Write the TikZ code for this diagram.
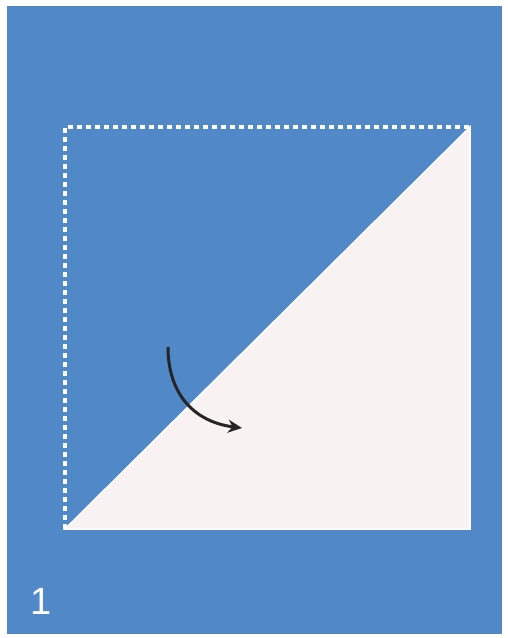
\documentclass[tikz,border=0pt]{standalone}
\usepackage{fontspec}
\setsansfont{Liberation Sans}
\usetikzlibrary{arrows.meta}
\definecolor{bgblue}{RGB}{80,136,200}
\definecolor{paper}{RGB}{248,242,243}
\tikzset{
  fold/.style={draw=white, line width=3.2pt, dash pattern=on 5pt off 4pt},
  paperfill/.style={fill=paper, draw=white, line width=1.5pt},
  arr/.style={draw=black!85, line width=3pt, -{Stealth[length=14pt,width=13pt]}},
  lbl/.style={text=white, font=\sffamily\fontsize{38}{38}\selectfont, inner sep=0pt}
}
\begin{document}
\begin{tikzpicture}[x=1pt,y=-1pt]
\useasboundingbox (0,0) rectangle (507,638);
\fill[white] (0,0) rectangle (507,638);
\fill[bgblue] (7,6) rectangle (502,634);
\coordinate (tl) at (65,127);
\coordinate (tr) at (470,127);
\coordinate (bl) at (65,529);
\coordinate (br) at (470,529);
\draw[fold] (bl) -- (tl) -- (tr);
\filldraw[paperfill] (bl) -- (tr) -- (br) -- cycle;
\coordinate (as) at (168,347);
\coordinate (ae) at (242,428);
\draw[arr] (as) .. controls (168,395) and (195,422) .. (ae);
\node[lbl] (n1) at (41,601) {1};
\end{tikzpicture}
\end{document}
